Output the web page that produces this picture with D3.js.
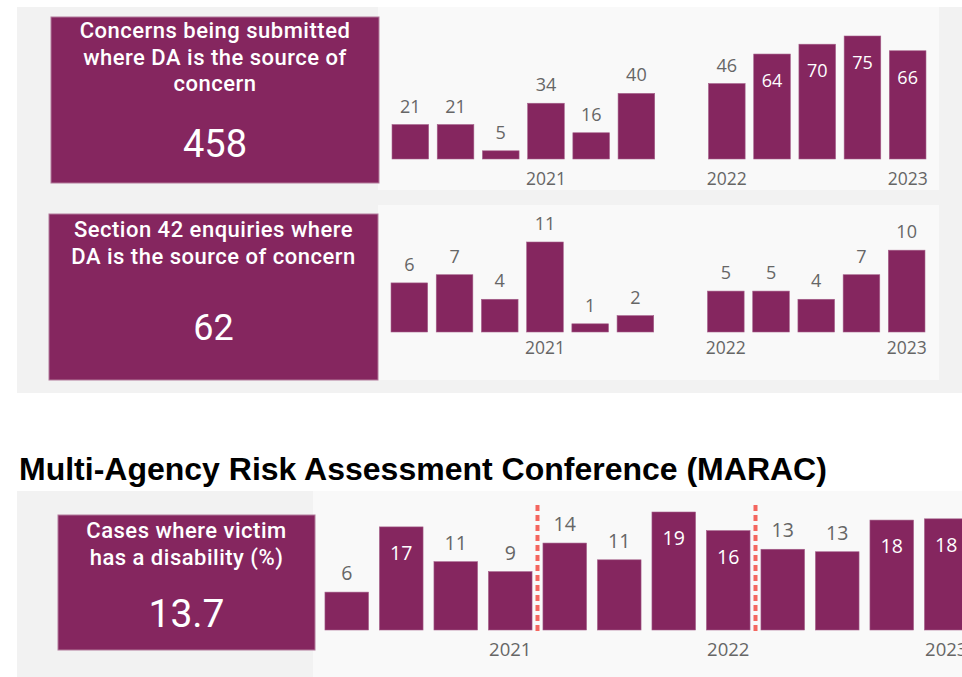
<!DOCTYPE html>
<html>
<head>
<meta charset="utf-8">
<script src="https://cdn.jsdelivr.net/npm/d3@7"></script>
<style>
  body { margin: 0; background: #fff; }
  .axes .domain { display: none; }
  .axes text { font-family: "Open Sans", sans-serif; fill: #666; }
</style>
</head>
<body>
<script>
// quarters shared by all three bar charts
const quarters = ["2020 Q2", "2020 Q3", "2020 Q4", "2021 Q1", "2021 Q2", "2021 Q3",
                  "2021 Q4", "2022 Q1", "2022 Q2", "2022 Q3", "2022 Q4", "2023 Q1"];
const yearTicks = ["2021 Q1", "2022 Q1", "2023 Q1"];
const yearBreaks = ["2021 Q2", "2022 Q2"];

const concerns = [21, 21, 5, 34, 16, 40, null, 46, 64, 70, 75, 66];
const s42 = [6, 7, 4, 11, 1, 2, null, 5, 5, 4, 7, 10];
const maracDisability = [6.1, 16.6, 11, 9.4, 14, 11.3, 19, 16, 13, 12.6, 17.7, 17.9];

const kpiTitles = [
  ["Concerns being submitted", "where DA is the source of", "concern"],
  ["Section 42 enquiries where", "DA is the source of concern"],
  ["Cases where victim", "has a disability (%)"]
];
const kpiValues = ["458", "62", "13.7"];
const heading = "Multi-Agency Risk Assessment Conference (MARAC)";

const purple = "#85265f",
      width = 962,
      height = 677;

const svg = d3.select("body")
  .append("svg")
  .attr("width", width)
  .attr("height", height);

// panels
svg.append("rect").attr("x", 17).attr("y", 7).attr("width", 945).attr("height", 386).attr("fill", "#f2f2f2");
svg.append("rect").attr("x", 378).attr("y", 7).attr("width", 561).attr("height", 183).attr("fill", "#f9f9f9");
svg.append("rect").attr("x", 378).attr("y", 205).attr("width", 561).attr("height", 175).attr("fill", "#f9f9f9");
svg.append("rect").attr("x", 17).attr("y", 491).attr("width", 945).attr("height", 186).attr("fill", "#f2f2f2");
svg.append("rect").attr("x", 313).attr("y", 491).attr("width", 649).attr("height", 186).attr("fill", "#f9f9f9");

svg.append("text")
  .attr("x", 19)
  .attr("y", 480)
  .style("font-family", "'Liberation Sans', Arial, sans-serif")
  .style("font-weight", "bold")
  .style("font-size", "32px")
  .attr("fill", "#000")
  .text(heading);

// kpi cards
const cards = [
  {x: 51, y: 17, w: 328, h: 166, title: 38, value: 157, vsize: 38},
  {x: 49, y: 214, w: 329, h: 166, title: 237, value: 340, vsize: 36},
  {x: 58, y: 515, w: 257, h: 135, title: 538, value: 627, vsize: 39}
];

cards.forEach((c, i) => {
  svg.append("rect")
    .attr("x", c.x).attr("y", c.y)
    .attr("width", c.w).attr("height", c.h)
    .attr("fill", purple)
    .attr("stroke", "#b27a9b")
    .attr("stroke-width", 1);
  svg.append("g").selectAll("text")
    .data(kpiTitles[i]).enter()
    .append("text")
    .attr("x", c.x + c.w / 2)
    .attr("y", (d, j) => c.title + j * 26.5)
    .attr("text-anchor", "middle")
    .attr("fill", "#fff")
    .style("font-family", "Roboto, sans-serif")
    .style("font-weight", 500)
    .style("font-size", "22px")
    .style("letter-spacing", "0.5px")
    .text((d) => d);
  svg.append("text")
    .attr("x", c.x + c.w / 2)
    .attr("y", c.value)
    .attr("text-anchor", "middle")
    .attr("fill", "#fff")
    .style("font-family", "Roboto, sans-serif")
    .style("font-size", c.vsize + "px")
    .text(kpiValues[i]);
});

function barChart(values, opt) {
  const xScale = d3.scaleBand()
    .domain(quarters)
    .range(opt.xRange)
    .paddingInner(opt.pad)
    .paddingOuter(0.1);
  const yScale = d3.scaleLinear()
    .domain([0, opt.max])
    .range([opt.base, opt.top]);
  const data = quarters.map((q, i) => ({q: q, v: values[i]}))
    .filter((d) => d.v != null);
  const fmt = d3.format(".0f");
  const g = svg.append("g");

  g.selectAll("rect")
    .data(data).enter()
    .append("rect")
    .attr("x", (d) => xScale(d.q))
    .attr("y", (d) => yScale(d.v))
    .attr("width", xScale.bandwidth())
    .attr("height", (d) => opt.base - yScale(d.v))
    .attr("fill", purple)
    .attr("stroke", "#a5608a")
    .attr("stroke-width", 0.6);

  // labels go inside the bar when there is no room above it
  const inside = (d) => yScale(d.v) - 30 < opt.plotTop;
  g.selectAll(".lbl")
    .data(data).enter()
    .append("text")
    .attr("class", "lbl")
    .attr("x", (d) => xScale(d.q) + xScale.bandwidth() / 2)
    .attr("y", (d) => inside(d) ? yScale(d.v) + 33 : yScale(d.v) - 12)
    .attr("text-anchor", "middle")
    .attr("fill", (d) => inside(d) ? "#fff" : "#666")
    .style("font-family", "'Open Sans', sans-serif")
    .style("font-size", opt.labelSize + "px")
    .text((d) => fmt(d.v));

  const xAxis = d3.axisBottom(xScale)
    .tickValues(yearTicks)
    .tickFormat((q) => q.slice(0, 4))
    .tickSize(0)
    .tickPadding(0);

  g.append("g")
    .attr("transform", "translate(0," + opt.axisY + ")")
    .call(xAxis)
    .classed("axes", true)
    .selectAll("text")
    .attr("dy", 0)
    .style("font-size", opt.axisSize + "px");

  return xScale;
}

barChart(concerns, {xRange: [387.5, 930.5], pad: 0.19, max: 75, base: 159, top: 36,
  plotTop: 30, labelSize: 18, axisY: 185, axisSize: 17.5});
barChart(s42, {xRange: [386.5, 929.5], pad: 0.19, max: 11, base: 332, top: 242,
  plotTop: 210, labelSize: 18, axisY: 354, axisSize: 17.5});
const x3 = barChart(maracDisability, {xRange: [319.5, 973.5], pad: 0.2, max: 19, base: 630, top: 512,
  plotTop: 507, labelSize: 19.5, axisY: 656, axisSize: 18.5});

// financial year separators
svg.selectAll(".fy")
  .data(yearBreaks).enter()
  .append("line")
  .attr("class", "fy")
  .attr("x1", (q) => x3(q) - x3.step() * x3.paddingInner() / 2)
  .attr("x2", (q) => x3(q) - x3.step() * x3.paddingInner() / 2)
  .attr("y1", 505)
  .attr("y2", 633)
  .attr("stroke", "#f4665f")
  .attr("stroke-width", 4)
  .attr("stroke-dasharray", "6,4");
</script>
</body>
</html>
